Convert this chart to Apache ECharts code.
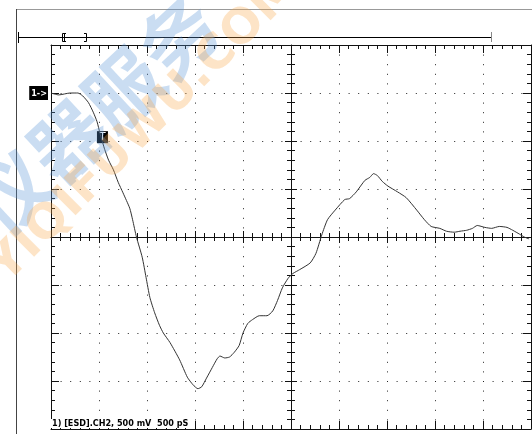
<!DOCTYPE html>
<html>
<head>
<meta charset="utf-8">
<script src="https://cdn.jsdelivr.net/npm/echarts@6/dist/echarts.min.js"></script>
<style>
  html, body { margin: 0; padding: 0; background: #fff; }
  #scope { width: 532px; height: 434px; }
</style>
</head>
<body>
<div id="scope"></div>
<script>
// Channel 2 ESD discharge capture: time in ns (500 ps/div), amplitude in V (500 mV/div)
const timeNs = [
  0.00, 0.08, 0.20, 0.28, 0.33, 0.39, 0.44, 0.48, 0.51, 0.56,
  0.60, 0.65, 0.70, 0.75, 0.82, 0.85, 0.89, 0.95, 0.99, 1.03,
  1.08, 1.13, 1.17, 1.24, 1.34, 1.42, 1.48, 1.53, 1.57, 1.62,
  1.68, 1.73, 1.76, 1.81, 1.86, 1.91, 1.96, 2.00, 2.05, 2.10,
  2.17, 2.25, 2.31, 2.36, 2.41, 2.47, 2.52, 2.59, 2.70, 2.76,
  2.82, 2.88, 2.96, 3.06, 3.11, 3.18, 3.27, 3.32, 3.36, 3.40,
  3.45, 3.51, 3.61, 3.70, 3.81, 3.89, 3.96, 4.05, 4.12, 4.20,
  4.26, 4.33, 4.39, 4.44, 4.52, 4.59, 4.67, 4.75, 4.81, 4.88,
  4.93, 4.98
];
const volts = [
  0.00, -0.02, 0.00, 0.00, -0.03, -0.10, -0.20, -0.30, -0.42, -0.59,
  -0.70, -0.80, -0.93, -1.04, -1.20, -1.32, -1.50, -1.71, -1.92, -2.13,
  -2.29, -2.42, -2.50, -2.60, -2.78, -2.96, -3.04, -3.08, -3.06, -2.97,
  -2.86, -2.77, -2.74, -2.76, -2.75, -2.70, -2.63, -2.50, -2.40, -2.36,
  -2.32, -2.32, -2.27, -2.16, -2.03, -1.93, -1.88, -1.84, -1.77, -1.67,
  -1.48, -1.32, -1.22, -1.11, -1.10, -1.03, -0.91, -0.88, -0.84, -0.86,
  -0.92, -0.97, -1.03, -1.09, -1.22, -1.32, -1.39, -1.41, -1.44, -1.45,
  -1.44, -1.43, -1.41, -1.38, -1.40, -1.41, -1.39, -1.40, -1.43, -1.47,
  -1.50, -1.52
];

// Screen: 10 horizontal x 8 vertical divisions
const timeRange = [0, 5];        // ns
const voltRange = [-3.5, 0.5];   // V
const divTime = 0.5;             // ns per division
const divVolt = 0.5;             // V per division
const centerTime = 2.5;
const centerVolt = -1.5;
const groundVolt = 0;            // channel 1 reference marker
const triggerPoint = [0.536, -0.46];
const statusText = '1) [ESD].CH2, 500 mV  500 pS';

const INK = '#111';
const gridBox = { left: 51, top: 45, width: 480, height: 384 };
const pxPerDivX = gridBox.width / ((timeRange[1] - timeRange[0]) / divTime);
const pxPerDivY = gridBox.height / ((voltRange[1] - voltRange[0]) / divVolt);
const dotGap = pxPerDivX / 5 - 1;
const midOffsetY = -(centerVolt - voltRange[0]) / divVolt * pxPerDivY;
const midOffsetX = -(centerTime - timeRange[0]) / divTime * pxPerDivX;

const trace = timeNs.map((t, i) => [t, volts[i]]);

function xAx(extra) {
  return Object.assign({
    type: 'value', min: timeRange[0], max: timeRange[1], interval: divTime,
    axisLine: { show: true, onZero: false, lineStyle: { color: INK, width: 1 } },
    axisTick: { show: true, inside: true, length: 8, lineStyle: { color: INK, width: 1 } },
    minorTick: { show: true, splitNumber: 5, length: 4, lineStyle: { color: INK, width: 1 } },
    axisLabel: { show: false },
    splitLine: { show: false }
  }, extra);
}
function yAx(extra) {
  return Object.assign({
    type: 'value', min: voltRange[0], max: voltRange[1], interval: divVolt,
    axisLine: { show: true, onZero: false, lineStyle: { color: INK, width: 1 } },
    axisTick: { show: true, inside: true, length: 8, lineStyle: { color: INK, width: 1 } },
    minorTick: { show: true, splitNumber: 5, length: 4, lineStyle: { color: INK, width: 1 } },
    axisLabel: { show: false },
    splitLine: { show: false }
  }, extra);
}
const dotted = { show: true, lineStyle: { color: '#222', width: 1, type: [1, dotGap] } };
const midTick = inside => ({ show: true, inside: inside, length: 6, lineStyle: { color: INK } });
const midMinor = { show: true, splitNumber: 5, length: 4, lineStyle: { color: INK } };

const chart = echarts.init(document.getElementById('scope'), null, { renderer: 'canvas' });
chart.setOption({
  backgroundColor: '#fff',
  animation: false,
  grid: Object.assign({ containLabel: false }, gridBox),
  xAxis: [
    xAx({ position: 'bottom', splitLine: dotted }),
    xAx({ position: 'top' }),
    // centre graticule line with ticks on both sides
    xAx({ position: 'bottom', offset: midOffsetY, axisTick: midTick(true), minorTick: midMinor }),
    xAx({ position: 'bottom', offset: midOffsetY, axisLine: { show: false, onZero: false }, axisTick: midTick(false), minorTick: midMinor })
  ],
  yAxis: [
    yAx({
      position: 'left', splitLine: dotted,
      axisLabel: {
        show: true, margin: 3,
        formatter: v => (Math.abs(v - groundVolt) < 1e-9 ? '{m|1->}' : ''),
        rich: { m: { color: '#fff', backgroundColor: '#000', fontFamily: 'DejaVu Sans Condensed', fontSize: 9, fontWeight: 'bold', padding: [3, 1, 2, 2] } }
      }
    }),
    yAx({ position: 'right' }),
    yAx({ position: 'left', offset: midOffsetX, axisTick: midTick(true), minorTick: midMinor }),
    yAx({ position: 'left', offset: midOffsetX, axisLine: { show: false, onZero: false }, axisTick: midTick(false), minorTick: midMinor })
  ],
  series: [{
    type: 'line',
    xAxisIndex: 0, yAxisIndex: 0,
    data: trace,
    showSymbol: false,
    smooth: 0.2,
    lineStyle: { color: '#333', width: 1 },
    z: 5,
    markPoint: {
      symbol: 'rect',
      symbolSize: [11, 12],
      itemStyle: { color: '#000' },
      label: { show: true, color: '#fff', fontFamily: 'DejaVu Sans', fontSize: 10, formatter: 'T' },
      data: [{ coord: triggerPoint }]
    }
  }],
  graphic: [
    // outer frame
    { type: 'line', shape: { x1: 16, y1: 9.5, x2: 532, y2: 9.5 }, style: { stroke: '#999', lineWidth: 1 } },
    { type: 'line', shape: { x1: 16.5, y1: 9, x2: 16.5, y2: 434 }, style: { stroke: '#444', lineWidth: 1 } },
    // record length bar with window brackets
    { type: 'line', shape: { x1: 18, y1: 37.5, x2: 491, y2: 37.5 }, style: { stroke: '#000', lineWidth: 1 } },
    { type: 'line', shape: { x1: 18.5, y1: 32, x2: 18.5, y2: 43 }, style: { stroke: '#000', lineWidth: 1 } },
    { type: 'line', shape: { x1: 491.5, y1: 32, x2: 491.5, y2: 42 }, style: { stroke: '#888', lineWidth: 1 } },
    { type: 'polyline', shape: { points: [[66, 33.5], [62.5, 33.5], [62.5, 41.5], [66, 41.5]] }, style: { stroke: '#000', fill: null, lineWidth: 1 } },
    { type: 'line', shape: { x1: 64.5, y1: 33, x2: 64.5, y2: 42 }, style: { stroke: '#000', lineWidth: 1 } },
    { type: 'polyline', shape: { points: [[84, 33.5], [86.5, 33.5], [86.5, 41.5], [84, 41.5]] }, style: { stroke: '#000', fill: null, lineWidth: 1 } },
    // status line
    {
      type: 'text', left: 51, top: 419, z: 20,
      style: { text: statusText, fill: '#000', font: 'bold 9px "DejaVu Sans Condensed", "DejaVu Sans"', backgroundColor: '#fff', padding: [0, 2, 0, 1] }
    },
    // site watermark
    {
      type: 'text', x: 95, y: 115, rotation: Math.PI / 4.2, z: 30, silent: true,
      style: { text: '仪器服务', fill: 'rgba(90,150,215,0.32)', font: 'bold 76px "Noto Sans CJK SC"', textAlign: 'center', textVerticalAlign: 'middle' }
    },
    {
      type: 'text', x: 145, y: 128, rotation: Math.PI / 4, z: 30, silent: true,
      style: { text: 'YIQIFUWU.COM', fill: 'rgba(250,165,70,0.30)', font: 'bold 48px "DejaVu Sans"', textAlign: 'center', textVerticalAlign: 'middle' }
    }
  ]
});
</script>
</body>
</html>
